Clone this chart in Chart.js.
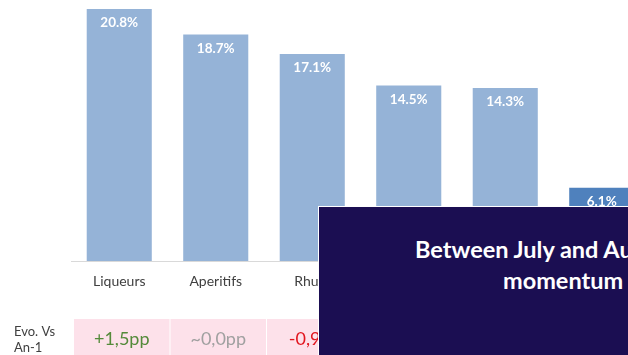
<!DOCTYPE html>
<html>
<head>
<meta charset="utf-8">
<script src="https://cdn.jsdelivr.net/npm/chart.js@4"></script>
<style>
  html, body { margin: 0; padding: 0; background: #ffffff; overflow: hidden; width: 628px; height: 355px; }
  #wrap { position: relative; width: 660px; height: 355px; }
  #overlay {
    position: absolute; left: 318px; top: 206px; width: 360px; height: 160px;
    background: #1b0e52; border-top: 1px solid #ffffff; border-left: 1px solid #ffffff;
    font-family: Lato, "Open Sans", sans-serif; font-weight: bold; color: #ffffff;
    font-size: 23.5px; white-space: nowrap;
  }
  #overlay .l1 { position: absolute; left: 96px; top: 28px; }
  #overlay .l2 { position: absolute; left: 184px; top: 59px; }
</style>
</head>
<body>
<div id="wrap">
  <canvas id="c" width="660" height="355"></canvas>
  <div id="overlay"><span class="l1">Between July and August,</span><span class="l2">momentum</span></div>
</div>
<script>
const categories = ["Liqueurs", "Aperitifs", "Rhum", "Whisky", "Vodka", "Gin"];
const shareValues = [20.8, 18.7, 17.1, 14.5, 14.3, 6.1];
const valueLabels = ["20.8%", "18.7%", "17.1%", "14.5%", "14.3%", "6.1%"];
const evoLabels = ["+1,5pp", "~0,0pp", "-0,9pp"];
const evoColors = ["#548a3a", "#a0a0a0", "#e2161f"];
const barColors = ["#95b3d7", "#95b3d7", "#95b3d7", "#95b3d7", "#95b3d7", "#4f81bd"];

const labelsPlugin = {
  id: 'valueLabels',
  afterDatasetsDraw(chart) {
    const ctx = chart.ctx;
    const meta = chart.getDatasetMeta(0);
    ctx.save();
    ctx.fillStyle = '#ffffff';
    ctx.font = 'bold 13.5px Lato, "Open Sans", sans-serif';
    ctx.textAlign = 'center';
    ctx.textBaseline = 'middle';
    meta.data.forEach((bar, i) => {
      ctx.fillText(valueLabels[i], bar.x, bar.y + 15);
    });
    ctx.restore();
  }
};

const tablePlugin = {
  id: 'evoTable',
  afterDraw(chart) {
    const ctx = chart.ctx;
    const xs = chart.scales.x;
    const step = xs.getPixelForValue(1) - xs.getPixelForValue(0);
    ctx.save();
    ctx.fillStyle = '#404040';
    ctx.font = '13px Lato, "Open Sans", sans-serif';
    ctx.textAlign = 'left';
    ctx.textBaseline = 'middle';
    ctx.fillText('Evo. Vs', 14, 332);
    ctx.fillText('An-1', 14, 348);
    evoLabels.forEach((t, i) => {
      const cx = xs.getPixelForValue(i) + 2.5;
      const left = cx - step / 2 + 0.5;
      ctx.fillStyle = '#fde1ea';
      ctx.fillRect(left, 319, step - 1, 40);
      ctx.fillStyle = evoColors[i];
      ctx.font = '18px Lato, "Open Sans", sans-serif';
      ctx.textAlign = 'center';
      ctx.fillText(t, cx, 339);
    });
    ctx.restore();
  }
};

new Chart(document.getElementById('c'), {
  type: 'bar',
  data: {
    labels: categories,
    datasets: [{
      data: shareValues,
      backgroundColor: barColors,
      borderColor: 'rgba(255,255,255,0.45)',
      borderWidth: 1,
      categoryPercentage: 1,
      barPercentage: 0.695
    }]
  },
  options: {
    responsive: false,
    animation: false,
    layout: { padding: { left: 71, right: 10, top: 0, bottom: 0 } },
    plugins: { legend: { display: false }, tooltip: { enabled: false } },
    scales: {
      x: {
        grid: { display: false, drawTicks: false },
        border: { display: true, color: '#d9d9d9', width: 1 },
        ticks: { color: '#404040', font: { family: 'Lato, "Open Sans", sans-serif', size: 14 }, padding: 12, maxRotation: 0 },
        afterFit(scale) { scale.height = 94; }
      },
      y: { display: false, min: 0, max: 21.45 }
    }
  },
  plugins: [labelsPlugin, tablePlugin]
});
</script>
</body>
</html>
